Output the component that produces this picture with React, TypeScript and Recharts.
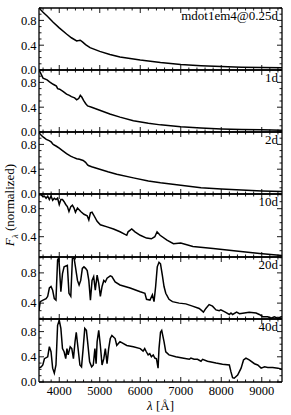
import React from 'react';
import { LineChart, Line, XAxis, YAxis } from 'recharts';

// ---------- data: [wavelength (Å), normalized flux] ----------
const spec025: [number, number][] = [
  [3500, 1.0], [3600, 0.93], [3700, 0.87], [3850, 0.77], [4000, 0.68], [4180, 0.58], [4300, 0.52],
  [4430, 0.47], [4480, 0.475], [4520, 0.48], [4580, 0.45], [4650, 0.41], [4760, 0.36], [5000, 0.3],
  [5250, 0.25], [5500, 0.21], [6000, 0.16], [6500, 0.12], [7000, 0.09], [7500, 0.07], [8000, 0.055],
  [8500, 0.045], [9000, 0.04], [9500, 0.035],
];

const spec1d: [number, number][] = [
  [3500, 1.0], [3540, 0.95], [3600, 0.87], [3700, 0.84], [3760, 0.81], [3850, 0.77], [3930, 0.74],
  [3960, 0.7], [4010, 0.69], [4100, 0.65], [4180, 0.61], [4250, 0.59], [4300, 0.57], [4380, 0.55],
  [4430, 0.52], [4480, 0.54], [4520, 0.59], [4560, 0.56], [4600, 0.51], [4650, 0.46], [4700, 0.42],
  [4800, 0.4], [5000, 0.35], [5250, 0.29], [5500, 0.24], [5830, 0.18], [6200, 0.14], [6500, 0.115],
  [7000, 0.085], [7500, 0.065], [8000, 0.05], [8500, 0.04], [9000, 0.035], [9500, 0.03],
];

const spec2d: [number, number][] = [
  [3500, 0.99], [3550, 0.95], [3600, 0.92], [3680, 0.88], [3750, 0.86], [3800, 0.84], [3850, 0.8],
  [3930, 0.77], [4000, 0.74], [4080, 0.7], [4180, 0.65], [4280, 0.61], [4350, 0.59], [4430, 0.57],
  [4500, 0.56], [4590, 0.54], [4650, 0.51], [4700, 0.47], [4720, 0.46], [4800, 0.44], [5000, 0.4],
  [5200, 0.36], [5420, 0.32], [5830, 0.26], [6200, 0.21], [6500, 0.18], [7000, 0.14], [7500, 0.1],
  [8000, 0.08], [8500, 0.065], [9000, 0.05], [9500, 0.04],
];

const spec10d: [number, number][] = [
  [3500, 1.0], [3553, 1.0], [3600, 0.97], [3634, 0.98], [3675, 0.95], [3715, 0.98], [3756, 0.93],
  [3797, 0.98], [3837, 0.92], [3878, 0.95], [3919, 0.93], [3959, 0.95], [4000, 0.86], [4040, 0.93],
  [4080, 0.93], [4120, 0.9], [4160, 0.86], [4200, 0.83], [4240, 0.76], [4285, 0.83], [4325, 0.85],
  [4365, 0.81], [4400, 0.75], [4450, 0.81], [4530, 0.76], [4610, 0.72], [4690, 0.7], [4730, 0.64],
  [4770, 0.74], [4810, 0.75], [4850, 0.71], [4935, 0.62], [5015, 0.57], [5180, 0.54], [5340, 0.51],
  [5500, 0.47], [5667, 0.42], [5700, 0.47], [5790, 0.51], [5870, 0.47], [6000, 0.42], [6155, 0.38],
  [6275, 0.37], [6360, 0.4], [6415, 0.47], [6490, 0.42], [6660, 0.35], [6820, 0.3], [7000, 0.31],
  [7300, 0.26], [7800, 0.23], [8310, 0.2], [8950, 0.16], [9500, 0.13],
];

const spec20d: [number, number][] = [
  [3500, 0.3], [3530, 0.42], [3600, 0.44], [3675, 0.46], [3715, 0.49], [3756, 0.6], [3797, 0.62],
  [3837, 0.57], [3878, 0.46], [3919, 0.44], [3959, 0.97], [3990, 1.0], [4040, 0.55], [4080, 0.79],
  [4120, 0.88], [4200, 0.9], [4240, 0.53], [4285, 0.49], [4325, 0.99], [4365, 1.0], [4400, 0.88],
  [4450, 0.7], [4490, 0.64], [4530, 0.7], [4570, 0.86], [4610, 0.88], [4650, 0.86], [4690, 0.83],
  [4730, 0.7], [4770, 0.44], [4810, 0.7], [4850, 0.75], [4890, 0.57], [4935, 0.77], [4975, 0.66],
  [5015, 0.49], [5057, 0.62], [5100, 0.7], [5138, 0.68], [5180, 0.73], [5260, 0.76], [5300, 0.75],
  [5380, 0.68], [5500, 0.64], [5750, 0.6], [6000, 0.55], [6115, 0.53], [6155, 0.45], [6240, 0.44],
  [6300, 0.51], [6340, 0.42], [6380, 0.62], [6420, 0.88], [6463, 0.94], [6500, 0.92], [6545, 0.77],
  [6587, 0.62], [6630, 0.53], [6710, 0.45], [6795, 0.42], [6960, 0.4], [7124, 0.39], [7290, 0.36],
  [7455, 0.33], [7520, 0.3], [7560, 0.28], [7620, 0.33], [7700, 0.38], [7785, 0.36], [7870, 0.31],
  [7950, 0.3], [7990, 0.31], [8100, 0.28], [8200, 0.25], [8240, 0.27], [8280, 0.25], [8380, 0.28],
  [8450, 0.26], [8570, 0.27], [8690, 0.28], [8860, 0.27], [8940, 0.25], [9025, 0.22], [9150, 0.22],
  [9230, 0.2], [9310, 0.22], [9400, 0.2], [9480, 0.22], [9500, 0.22],
];

const spec40d: [number, number][] = [
  [3500, 0.22], [3553, 0.24], [3594, 0.27], [3634, 0.37], [3715, 0.4], [3756, 0.56], [3797, 0.48],
  [3837, 0.22], [3878, 0.14], [3919, 0.27], [3959, 0.9], [4000, 0.98], [4040, 0.85], [4080, 0.53],
  [4120, 0.48], [4160, 0.37], [4190, 0.53], [4220, 0.43], [4270, 0.56], [4310, 0.53], [4350, 0.37],
  [4390, 0.64], [4420, 0.79], [4460, 0.56], [4510, 0.27], [4550, 0.24], [4590, 0.53], [4630, 0.85],
  [4670, 0.82], [4700, 0.64], [4750, 0.32], [4800, 0.24], [4840, 0.27], [4880, 0.53], [4910, 0.29],
  [4935, 0.64], [4975, 0.82], [5015, 0.58], [5057, 0.27], [5100, 0.37], [5138, 0.53], [5180, 0.29],
  [5220, 0.53], [5260, 0.69], [5300, 0.74], [5380, 0.69], [5420, 0.58], [5460, 0.61], [5500, 0.64],
  [5667, 0.58], [5830, 0.56], [6000, 0.53], [6070, 0.49], [6110, 0.53], [6150, 0.48], [6195, 0.43],
  [6235, 0.45], [6275, 0.4], [6320, 0.43], [6360, 0.38], [6400, 0.37], [6440, 0.22], [6463, 0.53],
  [6500, 0.79], [6530, 0.82], [6587, 0.64], [6630, 0.48], [6710, 0.43], [6876, 0.4], [7040, 0.38],
  [7210, 0.36], [7250, 0.38], [7330, 0.36], [7413, 0.36], [7500, 0.33], [7540, 0.36], [7660, 0.33],
  [7870, 0.3], [8030, 0.28], [8200, 0.27], [8240, 0.16], [8280, 0.07], [8320, 0.06], [8405, 0.11],
  [8490, 0.22], [8550, 0.35], [8610, 0.38], [8690, 0.35], [8820, 0.29], [8900, 0.27], [8985, 0.22],
  [9070, 0.24], [9150, 0.23], [9270, 0.23], [9400, 0.22], [9500, 0.2],
];

const panelLabels = ['mdot1em4@0.25d', '1d', '2d', '10d', '20d', '40d'];
const panelSpectra = [spec025, spec1d, spec2d, spec10d, spec20d, spec40d];
const panelDomains: [number, number][] = [
  [0, 1.0], [0, 1.0], [0, 1.0], [0.11, 1.01], [0.19, 1.01], [0, 1.0],
];

const xMajorTicks = [4000, 5000, 6000, 7000, 8000, 9000];
const yMajorTicks = [0.0, 0.4, 0.8];

// ---------- layout ----------
const W = 291;
const PLOT_LEFT = 39;
const PLOT_RIGHT = 282;
const BOUNDS = [8, 70, 132, 194, 257, 319, 382];
const M = 20;
const AX = 1; // axis thickness reserved by recharts
const FONT = '"Liberation Serif", "Times New Roman", serif';

const xAllTicks: number[] = [];
for (let v = 3600; v <= 9400; v += 200) xAllTicks.push(v);

function yTicksFor(domain: [number, number]) {
  const out: number[] = [];
  for (let i = 0; i <= 10; i++) {
    const v = i / 10;
    if (v >= domain[0] - 1e-9 && v <= domain[1] + 1e-9) out.push(v);
  }
  return out;
}
const isYMajor = (v: number) => yMajorTicks.some((m) => Math.abs(m - v) < 1e-6);

const TICK_W = 0.9;
const MAJ = 5;
const MIN = 2.5;

function BottomTick(props: any) {
  const { x, y, payload, showLabel } = props;
  const major = xMajorTicks.includes(payload.value);
  return (
    <g>
      <line x1={x} x2={x} y1={y} y2={y - (major ? MAJ : MIN)} stroke="#000" strokeWidth={TICK_W} />
      {showLabel && major && (
        <text x={x} y={y + 13} textAnchor="middle" fontSize={12.5} fontFamily={FONT} fill="#000">
          {payload.value}
        </text>
      )}
    </g>
  );
}

function TopTick(props: any) {
  const { x, y, payload } = props;
  const major = xMajorTicks.includes(payload.value);
  return <line x1={x} x2={x} y1={y} y2={y + (major ? MAJ : MIN)} stroke="#000" strokeWidth={TICK_W} />;
}

function LeftTick(props: any) {
  const { x, y, payload } = props;
  const major = isYMajor(payload.value);
  return (
    <g>
      <line x1={x} x2={x + (major ? MAJ : MIN)} y1={y} y2={y} stroke="#000" strokeWidth={TICK_W} />
      {major && (
        <text x={x - 2.5} y={y + 4.3} textAnchor="end" fontSize={12.5} fontFamily={FONT} fill="#000">
          {Number(payload.value).toFixed(1)}
        </text>
      )}
    </g>
  );
}

function RightTick(props: any) {
  const { x, y, payload } = props;
  const major = isYMajor(payload.value);
  return <line x1={x} x2={x - (major ? MAJ : MIN)} y1={y} y2={y} stroke="#000" strokeWidth={TICK_W} />;
}

function Panel({ idx }: { idx: number }) {
  const top = BOUNDS[idx];
  const h = BOUNDS[idx + 1] - BOUNDS[idx];
  const domain = panelDomains[idx];
  const data = panelSpectra[idx].map(([w, f]) => ({ w, f }));
  const yTicks = yTicksFor(domain);
  const isLast = idx === panelSpectra.length - 1;
  const axisLine = { stroke: '#000', strokeWidth: 1.3 };
  return (
    <div style={{ position: 'absolute', left: 0, top: top - M, width: W, height: h + 2 * M }}>
      <LineChart
        width={W}
        height={h + 2 * M}
        data={data}
        margin={{ top: M - AX, bottom: M - AX, left: PLOT_LEFT - AX, right: W - PLOT_RIGHT - AX }}
      >
        <XAxis
          xAxisId="b"
          orientation="bottom"
          dataKey="w"
          type="number"
          domain={[3500, 9500]}
          allowDataOverflow
          ticks={xAllTicks}
          interval={0}
          height={AX}
          tickSize={0}
          tickMargin={0}
          axisLine={axisLine}
          tickLine={false}
          tick={(p: any) => <BottomTick {...p} showLabel={isLast} />}
        />
        <XAxis
          xAxisId="t"
          orientation="top"
          dataKey="w"
          type="number"
          domain={[3500, 9500]}
          allowDataOverflow
          ticks={xAllTicks}
          interval={0}
          height={AX}
          tickSize={0}
          tickMargin={0}
          axisLine={axisLine}
          tickLine={false}
          tick={(p: any) => <TopTick {...p} />}
        />
        <YAxis
          yAxisId="l"
          orientation="left"
          type="number"
          domain={domain}
          allowDataOverflow
          ticks={yTicks}
          interval={0}
          width={AX}
          tickSize={0}
          tickMargin={0}
          axisLine={axisLine}
          tickLine={false}
          tick={(p: any) => <LeftTick {...p} />}
        />
        <YAxis
          yAxisId="r"
          orientation="right"
          type="number"
          domain={domain}
          allowDataOverflow
          ticks={yTicks}
          interval={0}
          width={AX}
          tickSize={0}
          tickMargin={0}
          axisLine={axisLine}
          tickLine={false}
          tick={(p: any) => <RightTick {...p} />}
        />
        <Line
          xAxisId="b"
          yAxisId="l"
          type="linear"
          dataKey="f"
          stroke="#000"
          strokeWidth={1.5}
          dot={false}
          activeDot={false}
          isAnimationActive={false}
        />
      </LineChart>
      <div
        style={{
          position: 'absolute',
          right: W - PLOT_RIGHT + 4,
          top: M + 1,
          fontFamily: FONT,
          fontSize: 13,
          lineHeight: '13px',
          color: '#000',
          whiteSpace: 'nowrap',
        }}
      >
        {panelLabels[idx]}
      </div>
    </div>
  );
}

export default function App() {
  return (
    <div style={{ position: 'absolute', left: 0, top: 0, width: W, height: 415, background: '#fff', overflow: 'hidden' }}>
      {panelSpectra.map((_, i) => (
        <Panel key={i} idx={i} />
      ))}
      <div
        style={{
          position: 'absolute',
          left: 10 - 70,
          top: 205 - 8,
          width: 140,
          height: 16,
          lineHeight: '16px',
          textAlign: 'center',
          transform: 'rotate(-90deg)',
          fontFamily: FONT,
          fontSize: 13,
          color: '#000',
          whiteSpace: 'nowrap',
        }}
      >
        <span style={{ fontStyle: 'italic' }}>F</span>
        <sub style={{ fontSize: 9, fontStyle: 'italic' }}>λ</sub> (normalized)
      </div>
      <div
        style={{
          position: 'absolute',
          left: (PLOT_LEFT + PLOT_RIGHT) / 2 - 40,
          top: 398,
          width: 80,
          textAlign: 'center',
          fontFamily: FONT,
          fontSize: 13,
          lineHeight: '15px',
          color: '#000',
        }}
      >
        <span style={{ fontStyle: 'italic' }}>λ</span> [Å]
      </div>
    </div>
  );
}
